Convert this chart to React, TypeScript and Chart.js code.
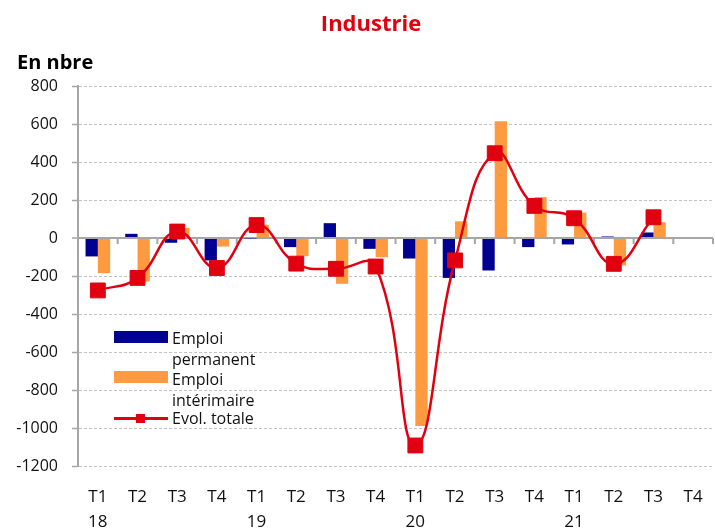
import React, { useEffect, useRef } from "react";
import { Chart, registerables } from "chart.js";
Chart.register(...registerables);

const quarters = ["T1", "T2", "T3", "T4", "T1", "T2", "T3", "T4", "T1", "T2", "T3", "T4", "T1", "T2", "T3", "T4"];
const years = ["18", "", "", "", "19", "", "", "", "20", "", "", "", "21", "", "", ""];
const emploiPermanent = [-97, 22, -25, -118, -3, -48, 78, -57, -108, -210, -171, -48, -34, 8, 29, null];
const emploiInterimaire = [-185, -229, 54, -45, 70, -96, -241, -101, -990, 88, 615, 215, 134, -145, 83, null];
const evolTotale = [-276, -210, 34, -158, 68, -135, -162, -150, -1092, -118, 446, 169, 104, -136, 109, null];

const FONT = "'Open Sans', sans-serif";
const BLUE = "#000091";
const ORANGE = "#FF9A40";
const RED = "#E1000F";
const AXIS = "#A6A6A6";
const GRID = "#C4C4C4";

const zeroLineTicks = {
  id: "zeroLineTicks",
  beforeDatasetsDraw(chart: any) {
    const xs = chart.scales.x;
    const ys = chart.scales.y;
    const y0 = ys.getPixelForValue(0);
    const n = quarters.length;
    const ctx = chart.ctx;
    ctx.save();
    ctx.strokeStyle = AXIS;
    ctx.lineWidth = 2;
    ctx.beginPath();
    for (let i = 0; i <= n; i++) {
      const px =
        i === 0 ? xs.left : i === n ? xs.right : (xs.getPixelForValue(i - 1) + xs.getPixelForValue(i)) / 2;
      ctx.moveTo(px, y0);
      ctx.lineTo(px, y0 + 6);
    }
    ctx.stroke();
    ctx.restore();
  },
};

export default function App() {
  const ref = useRef<HTMLCanvasElement>(null);
  useEffect(() => {
    document.body.style.margin = "0";
    const chart = new Chart(ref.current as HTMLCanvasElement, {
      type: "bar",
      data: {
        labels: quarters.map((q, i) => [q, years[i]]),
        datasets: [
          {
            type: "line",
            label: "Evol. totale",
            data: evolTotale,
            borderColor: RED,
            backgroundColor: RED,
            borderWidth: 2.5,
            pointStyle: "rect",
            pointRadius: 10.5,
            pointBackgroundColor: RED,
            pointBorderColor: RED,
            pointBorderWidth: 1,
            tension: 0.45,
            order: 0,
          } as any,
          {
            type: "bar",
            label: "Emploi permanent",
            data: emploiPermanent,
            backgroundColor: BLUE,
            categoryPercentage: 0.62,
            barPercentage: 1,
            order: 1,
          },
          {
            type: "bar",
            label: "Emploi intérimaire",
            data: emploiInterimaire,
            backgroundColor: ORANGE,
            categoryPercentage: 0.62,
            barPercentage: 1,
            order: 2,
          },
        ],
      },
      options: {
        responsive: false,
        animation: false,
        layout: { autoPadding: false, padding: { top: 86, right: 2, left: 0, bottom: 0 } },
        plugins: {
          legend: { display: false },
          title: { display: false },
          tooltip: { enabled: false },
        },
        scales: {
          x: {
            grid: { display: false },
            border: { display: false },
            ticks: {
              autoSkip: false,
              maxRotation: 0,
              padding: 11,
              color: "#111",
              font: { family: FONT, size: 17, lineHeight: 1.47 },
            },
            afterFit: (s: any) => {
              s.height = 63;
            },
          },
          y: {
            min: -1200,
            max: 800,
            ticks: {
              stepSize: 200,
              padding: 14,
              color: "#111",
              font: { family: FONT, size: 16 },
              callback: (v: any) => String(v),
            },
            grid: {
              color: (c: any) => (c.tick && c.tick.value === 0 ? AXIS : GRID),
              lineWidth: (c: any) => (c.tick && c.tick.value === 0 ? 2 : 1),
              tickColor: AXIS,
              tickLength: 6,
              tickWidth: 1.5,
            },
            border: {
              display: true,
              color: AXIS,
              width: 2,
              dash: (c: any) => (c.type === "tick" && c.tick && c.tick.value !== 0 ? [3, 2] : []),
            },
            afterFit: (s: any) => {
              s.width = 78;
            },
          },
        },
      } as any,
      plugins: [zeroLineTicks],
    });
    return () => chart.destroy();
  }, []);

  const txt: React.CSSProperties = {
    position: "absolute",
    left: 172,
    fontSize: 16,
    lineHeight: "20px",
    color: "#111",
    whiteSpace: "nowrap",
  };

  return (
    <div style={{ position: "relative", width: 715, height: 529, fontFamily: FONT, background: "#fff" }}>
      <canvas ref={ref} width={715} height={529} style={{ display: "block" }} />
      <div
        style={{
          position: "absolute",
          left: 221,
          width: 300,
          top: 7,
          textAlign: "center",
          fontSize: 22,
          fontWeight: 700,
          lineHeight: "30px",
          color: RED,
        }}
      >
        Industrie
      </div>
      <div
        style={{
          position: "absolute",
          left: 17,
          top: 49,
          fontSize: 20,
          fontWeight: 700,
          lineHeight: "26px",
          color: "#000",
        }}
      >
        En nbre
      </div>
      <div style={{ position: "absolute", left: 114, top: 331, width: 54, height: 12, background: BLUE }} />
      <div style={{ ...txt, top: 328 }}>Emploi</div>
      <div style={{ ...txt, top: 349 }}>permanent</div>
      <div style={{ position: "absolute", left: 114, top: 371, width: 54, height: 12, background: ORANGE }} />
      <div style={{ ...txt, top: 369 }}>Emploi</div>
      <div style={{ ...txt, top: 390 }}>intérimaire</div>
      <div style={{ position: "absolute", left: 114, top: 417, width: 54, height: 2.5, background: RED }} />
      <div style={{ position: "absolute", left: 136, top: 414, width: 9, height: 9, background: RED }} />
      <div style={{ ...txt, top: 408 }}>Evol. totale</div>
    </div>
  );
}
